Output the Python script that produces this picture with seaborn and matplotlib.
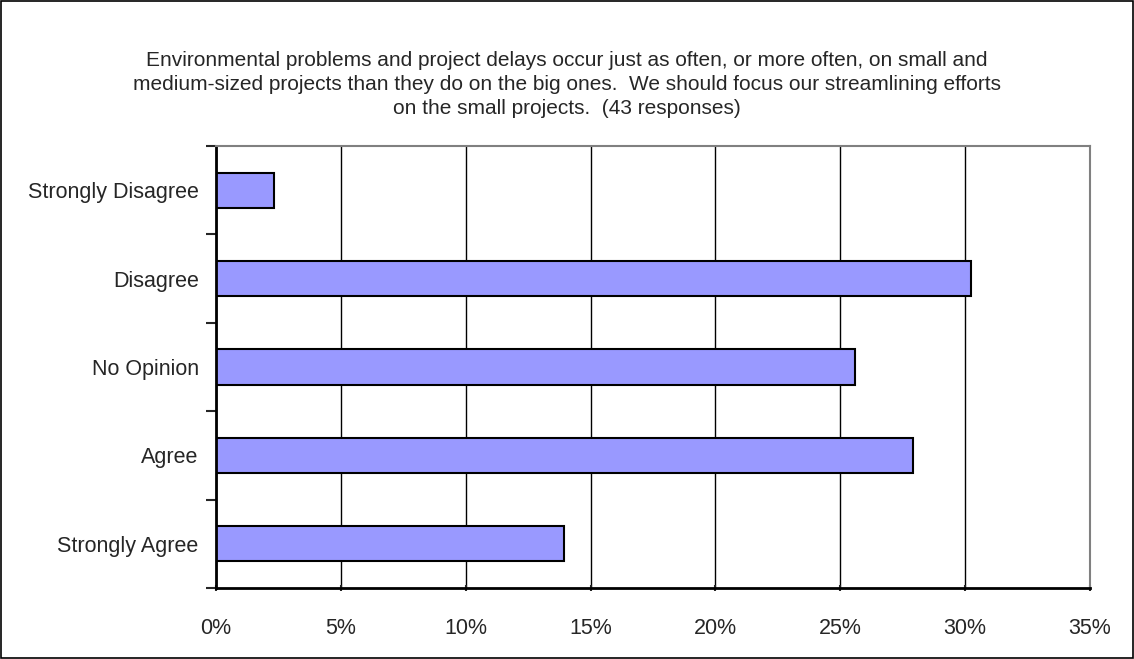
import numpy as np
import pandas as pd
import seaborn as sns
import matplotlib.pyplot as plt
from matplotlib.patches import Rectangle
from matplotlib.ticker import FuncFormatter

# survey answers (43 responses)
categories = ['Strongly Disagree', 'Disagree', 'No Opinion', 'Agree', 'Strongly Agree']
shares = [2.33, 30.23, 25.58, 27.91, 13.95]
x_ticks = [0, 5, 10, 15, 20, 25, 30, 35]

title = ('Environmental problems and project delays occur just as often, or more often, on small and\n'
         'medium-sized projects than they do on the big ones.  We should focus our streamlining efforts\n'
         'on the small projects.  (43 responses)')

df = pd.DataFrame({'answer': categories, 'share': shares})

sns.set_style('white')
plt.rcParams['font.family'] = ['Liberation Sans', 'DejaVu Sans']

fig = plt.figure(figsize=(11.34, 6.59), dpi=100)
ax = fig.add_axes([216 / 1134, 1 - 588 / 659, (1090 - 216) / 1134, (588 - 146) / 659])

sns.barplot(data=df, x='share', y='answer', orient='h', color='#9999FF',
            saturation=1, width=0.4, edgecolor='black', linewidth=1.5, ax=ax)

ax.set_xlim(0, 35)
ax.set_ylim(4.5, -0.5)
ax.set_xticks(x_ticks)
ax.xaxis.set_major_formatter(FuncFormatter(lambda v, p: f'{v:.0f}%'))
ax.grid(axis='x', color='black', linewidth=1)
ax.set_axisbelow(True)

# category boundaries get the ticks, the labels sit between them
ax.set_yticks(np.arange(len(categories) + 1) - 0.5, minor=True)
ax.tick_params(axis='y', which='major', length=0, pad=12.5, labelsize=15.5)
ax.tick_params(axis='y', which='minor', length=7, width=1.5, direction='out', left=True)
ax.tick_params(axis='x', length=5, width=1.5, direction='inout', bottom=True, pad=19, labelsize=15.5)

ax.set_xlabel('')
ax.set_ylabel('')

for side in ['left', 'bottom']:
    ax.spines[side].set_color('black')
    ax.spines[side].set_linewidth(2)
for side in ['top', 'right']:
    ax.spines[side].set_color('#808080')
    ax.spines[side].set_linewidth(1.5)

fig.text(0.5, 1 - 51 / 659, title, ha='center', va='top', fontsize=15, linespacing=1.33)

fig.patches.append(Rectangle((0.001, 0.0015), 0.998, 0.997, transform=fig.transFigure,
                             fill=False, edgecolor='black', linewidth=1.2))

fig.savefig('out.png', dpi=100)
